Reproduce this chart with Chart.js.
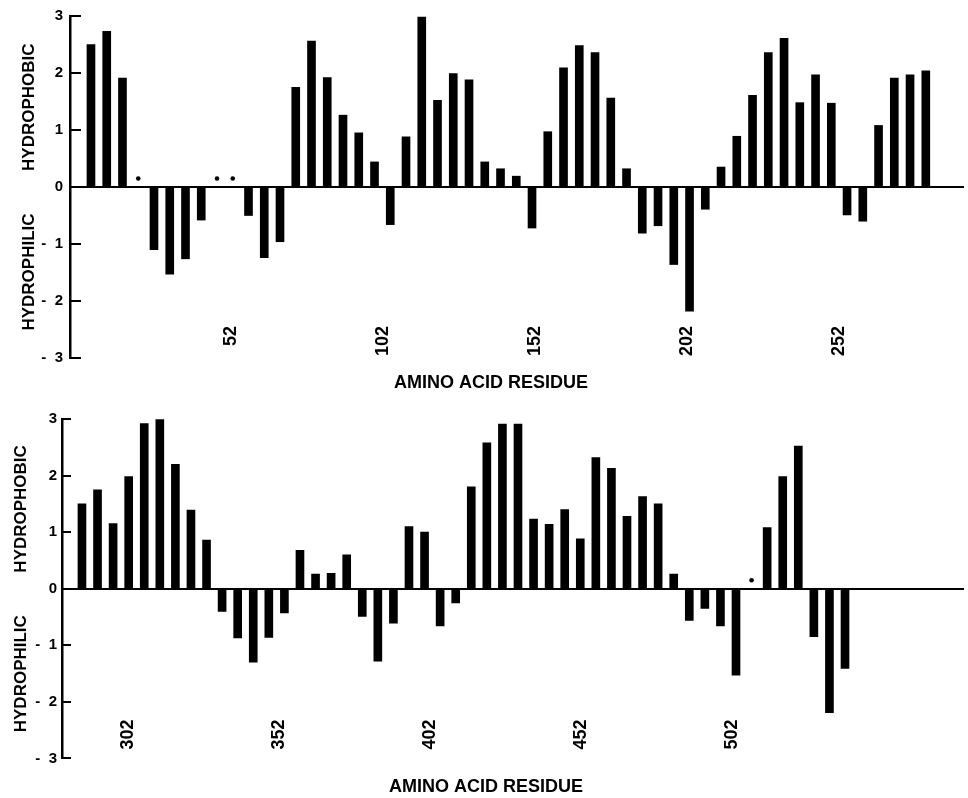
<!DOCTYPE html>
<html>
<head>
<meta charset="utf-8">
<script src="https://cdn.jsdelivr.net/npm/chart.js@4"></script>
<style>
  html, body { margin: 0; padding: 0; background: #fff; }
  .panel { position: absolute; left: 0; width: 968px; }
  #topPanel { top: 0; height: 400px; }
  #bottomPanel { top: 400px; height: 398px; }
</style>
</head>
<body>
<div class="panel" id="topPanel"><canvas id="topChart"></canvas></div>
<div class="panel" id="bottomPanel"><canvas id="bottomChart"></canvas></div>
<script>
// hydropathy values per window, null = window marked with an asterisk
const topValues = [2.5, 2.73, 1.91, null, -1.1, -1.53, -1.26, -0.58, null, null,
  -0.5, -1.24, -0.96, 1.75, 2.56, 1.92, 1.26, 0.95, 0.44, -0.66,
  0.88, 2.98, 1.52, 1.99, 1.88, 0.44, 0.32, 0.19, -0.72, 0.97,
  2.09, 2.48, 2.36, 1.56, 0.32, -0.81, -0.68, -1.36, -2.18, -0.39,
  0.35, 0.89, 1.61, 2.36, 2.61, 1.48, 1.97, 1.47, -0.49, -0.6,
  1.08, 1.91, 1.97, 2.04];
const bottomValues = [1.5, 1.75, 1.15, 1.98, 2.92, 2.99, 2.2, 1.39, 0.86, -0.4,
  -0.87, -1.3, -0.86, -0.43, 0.68, 0.26, 0.27, 0.6, -0.49, -1.28,
  -0.61, 1.1, 1.0, -0.66, -0.25, 1.8, 2.58, 2.91, 2.91, 1.23,
  1.14, 1.4, 0.88, 2.32, 2.13, 1.28, 1.63, 1.5, 0.26, -0.56,
  -0.35, -0.66, -1.53, null, 1.08, 1.98, 2.52, -0.85, -2.19, -1.41];

// residue of the first window and residues between windows
const topFirstResidue = 6.5;
const topResidueStep = 5.18;
const bottomFirstResidue = 287.5;
const bottomResidueStep = 5.15;

// x axis extent (residues)
const topRange = [-0.4, 293.6];
const bottomRange = [280.9, 579.2];

const topTicks = [52, 102, 152, 202, 252];
const bottomTicks = [302, 352, 402, 452, 502];

const yTickValues = [-3, -2, -1, 0, 1, 2, 3];
const yTickLabels = ['-  3', '-  2', '-  1', '0', '1', '2', '3'];

const markerLevel = 0.15;
const xTitle = 'AMINO ACID RESIDUE';
const yTitle = 'HYDROPHILIC' + ' '.repeat(9) + 'HYDROPHOBIC';

const FONT = "'Liberation Sans', Arial, Helvetica, sans-serif";

function makePanel(id, values, first, step, range, ticks, L) {
  const residues = values.map((_, i) => first + i * step);
  const bars = residues.map((x, i) => ({ x: x, y: values[i] }));
  const marks = residues.filter((x, i) => values[i] === null).map(x => ({ x: x, y: markerLevel }));

  return new Chart(document.getElementById(id), {
    type: 'bar',
    data: {
      datasets: [
        { type: 'bar', data: bars, backgroundColor: '#000', borderWidth: 0, barThickness: 8 },
        { type: 'scatter', data: marks, pointRadius: 2.3, pointBackgroundColor: '#000', pointBorderWidth: 0 }
      ]
    },
    options: {
      responsive: true,
      maintainAspectRatio: false,
      animation: false,
      layout: { padding: { left: L.padLeft, top: L.padTop, right: 0, bottom: 0 } },
      plugins: {
        legend: { display: false },
        tooltip: { enabled: false },
        title: {
          display: true, position: 'bottom', text: xTitle, color: '#000',
          font: { family: FONT, size: 18, weight: 'bold' },
          padding: { top: L.titleTop, bottom: L.titleBottom }
        }
      },
      scales: {
        x: {
          type: 'linear', min: range[0], max: range[1], offset: false,
          grid: { display: false, drawTicks: false },
          border: { display: false },
          afterBuildTicks: s => { s.ticks = ticks.map(v => ({ value: v })); },
          afterFit: s => { s.height = 4; s.paddingLeft = 0; s.paddingRight = 0; },
          ticks: {
            autoSkip: false, minRotation: 90, maxRotation: 90, mirror: true,
            padding: L.xTickPad, labelOffset: 23.5, color: '#000',
            font: { family: FONT, size: 18, weight: 'bold' },
            callback: v => String(v)
          }
        },
        y: {
          min: -3, max: 3,
          afterBuildTicks: s => { s.ticks = yTickValues.map(v => ({ value: v })); },
          afterFit: s => { s.width = L.yWidth; s.paddingTop = 0; s.paddingBottom = 0; },
          border: { display: true, color: '#000', width: 2.5 },
          grid: {
            drawOnChartArea: true, drawTicks: true,
            tickLength: -L.tickLen, tickWidth: 2, tickColor: '#000',
            color: c => (c.tick && c.tick.value === 0) ? '#000' : 'rgba(0,0,0,0)',
            lineWidth: 2
          },
          ticks: {
            padding: L.yTickPad, color: '#000',
            font: { family: FONT, size: 15, weight: 'bold' },
            callback: v => yTickLabels[yTickValues.indexOf(v)]
          },
          title: {
            display: true, text: yTitle, color: '#000',
            font: { family: FONT, size: 17, weight: 'bold' },
            padding: { top: L.yTitlePad, bottom: 0 }
          }
        }
      }
    }
  });
}

makePanel('topChart', topValues, topFirstResidue, topResidueStep, topRange, topTicks, {
  padLeft: 14, padTop: 16, titleTop: 10, titleBottom: 6.4,
  yWidth: 56, tickLen: 11, yTickPad: 18, yTitlePad: 4.8, xTickPad: 32
});
makePanel('bottomChart', bottomValues, bottomFirstResidue, bottomResidueStep, bottomRange, bottomTicks, {
  padLeft: 4, padTop: 19, titleTop: 14, titleBottom: 0,
  yWidth: 58, tickLen: 9, yTickPad: 14, yTitlePad: 6.8, xTickPad: 39
});
</script>
</body>
</html>
